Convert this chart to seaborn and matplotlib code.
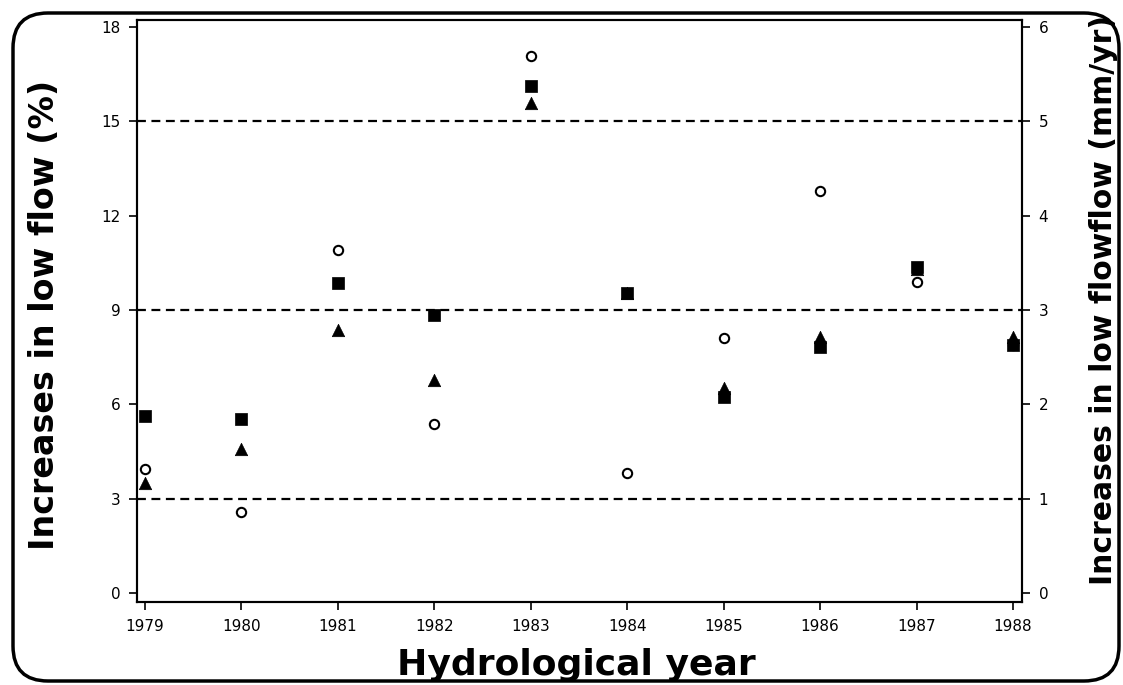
import pandas as pd
import seaborn as sns
import matplotlib.pyplot as plt
from matplotlib.patches import FancyBboxPatch

# Values (left axis, % increase in low flow)
years = [1979, 1980, 1981, 1982, 1983, 1984, 1985, 1986, 1987, 1988]
pct_circle = [3.94, 2.58, 10.91, 5.38, 17.08, 3.82, 8.11, 12.78, 9.90, 7.90]
pct_triangle = [3.50, 4.58, 8.37, 6.77, 15.58, 9.55, 6.52, 8.15, 10.30, 8.15]
pct_square = [5.62, 5.53, 9.87, 8.84, 16.13, 9.55, 6.24, 7.83, 10.35, 7.90]
ref_lines = [3, 9, 15]
left_ticks = [0, 3, 6, 9, 12, 15, 18]
right_ticks = [0, 1, 2, 3, 4, 5, 6]

df = pd.DataFrame({'year': years, 'circle': pct_circle,
                   'triangle': pct_triangle, 'square': pct_square})

sns.set_style('ticks')
plt.rcParams['font.family'] = ['DejaVu Sans']
plt.rcParams['text.color'] = 'black'

fig = plt.figure(figsize=(11.23, 6.85), dpi=100)
ax = fig.add_axes([0.122, 0.121, 0.788, 0.850])

# reference dashed lines
for v in ref_lines:
    ax.axhline(v, color='black', lw=1.6, dashes=(4, 2.5), zorder=1)

sns.scatterplot(data=df, x='year', y='circle', ax=ax, marker='o', s=45,
                facecolor='white', edgecolor='black', linewidth=1.5, zorder=3)
sns.scatterplot(data=df, x='year', y='triangle', ax=ax, marker='^', s=80,
                color='black', edgecolor='black', linewidth=0.5, zorder=4)
sns.scatterplot(data=df, x='year', y='square', ax=ax, marker='s', s=70,
                color='black', edgecolor='black', linewidth=0.5, zorder=5)

ax.set_xlim(1978.917, 1988.093)
ax.set_ylim(-0.287, 18.22)
ax.set_xticks(years)
ax.set_yticks(left_ticks)
ax.set_xlabel('')
ax.set_ylabel('')

ax2 = ax.twinx()
ax2.set_ylim(-0.287 / 3, 18.22 / 3)
ax2.set_yticks(right_ticks)

for a in (ax, ax2):
    for sp in a.spines.values():
        sp.set_visible(True)
        sp.set_linewidth(1.5)
        sp.set_color('black')
    a.tick_params(axis='both', direction='out', length=6, width=1.2,
                  pad=6, labelsize=11, colors='black')

fig.text(45 / 1123, 1 - 315 / 685, 'Increases in low flow (%)', rotation=90,
         ha='center', va='center', fontsize=24, fontweight='bold',
         color='black')
fig.text(1103 / 1123, 1 - 300 / 685, 'Increases in low flowflow (mm/yr)',
         rotation=90, ha='center', va='center', fontsize=21.5,
         fontweight='bold', color='black')
fig.text(576 / 1123, 1 - 665 / 685, 'Hydrological year', ha='center',
         va='center', fontsize=26, fontweight='bold', color='black')

# rounded outer frame
frame = FancyBboxPatch((0.13, 0.04), 11.06, 6.68,
                       boxstyle='round,pad=0,rounding_size=0.35',
                       transform=fig.dpi_scale_trans, fill=False,
                       edgecolor='black', lw=2.5, clip_on=False)
fig.add_artist(frame)

fig.savefig('out.png', dpi=100)
